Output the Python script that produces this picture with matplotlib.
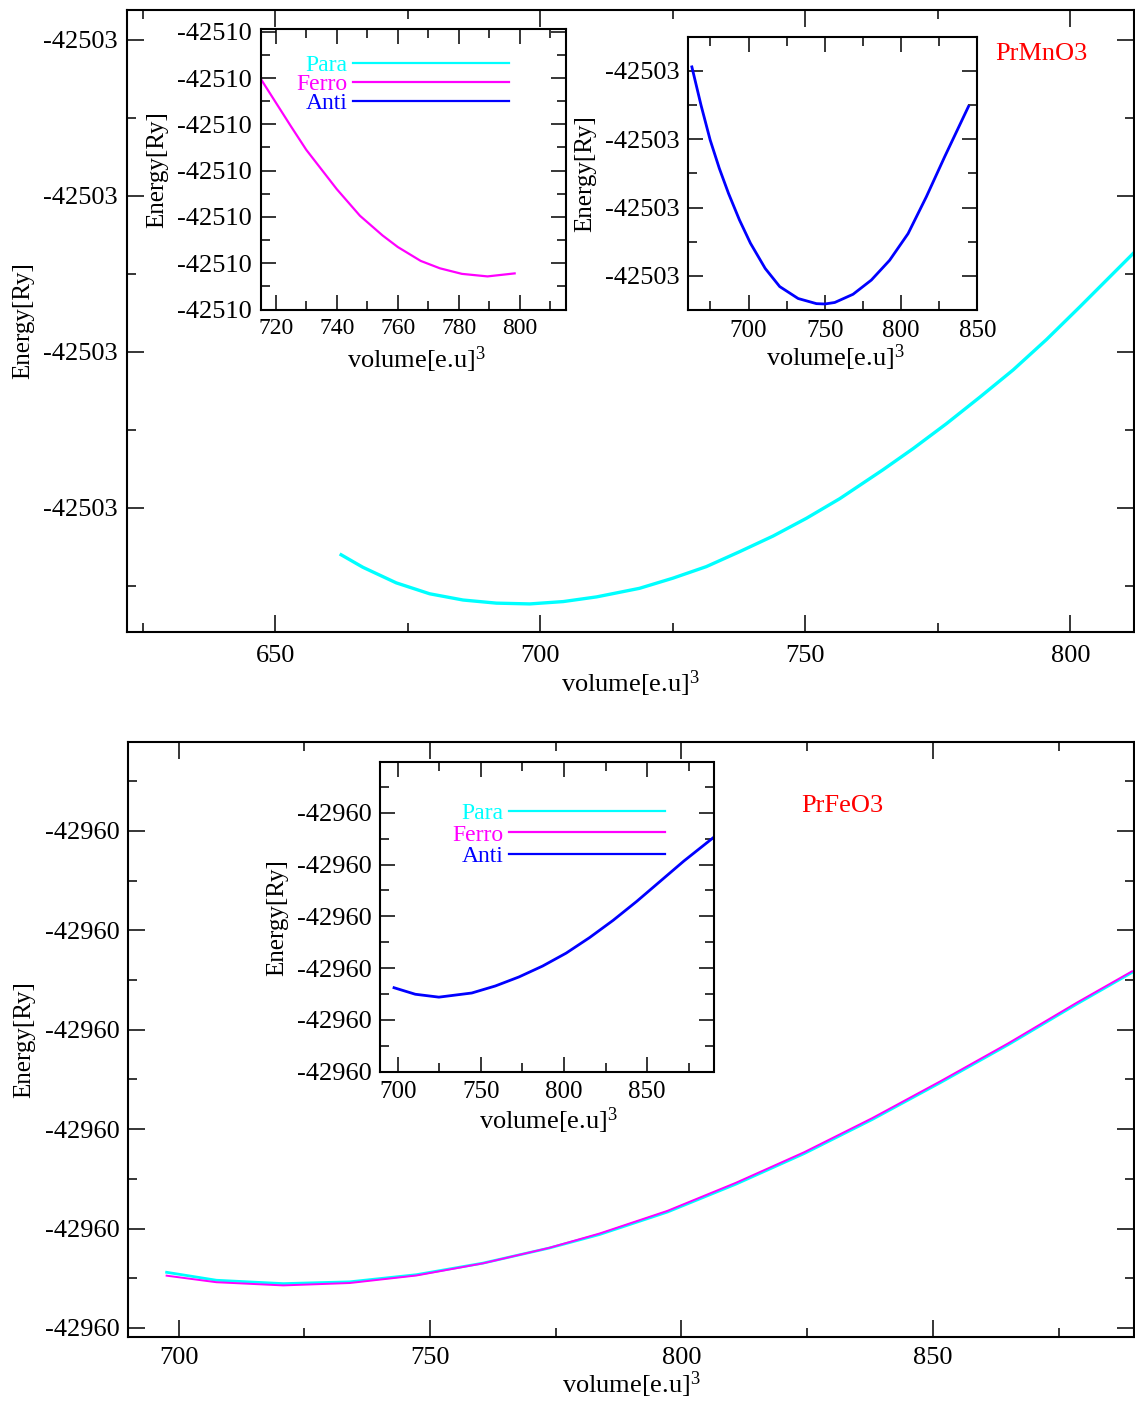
import matplotlib
matplotlib.use('Agg')
import matplotlib.pyplot as plt
from matplotlib.lines import Line2D
from matplotlib.ticker import MultipleLocator, FuncFormatter

plt.rcParams['font.family'] = ['Liberation Serif', 'DejaVu Serif']
plt.rcParams['mathtext.fontset'] = 'custom'
plt.rcParams['mathtext.rm'] = 'Liberation Serif'
plt.rcParams['mathtext.it'] = 'Liberation Serif'

# ---- PrMnO3 (top panel) ----
para_mn_vol = [662.4, 666.5, 672.8, 679.1, 685.4, 691.7, 698.0, 704.3, 710.6,
               718.7, 725.0, 731.3, 737.6, 743.9, 750.2, 756.5, 764.6, 770.3,
               776.6, 782.9, 789.2, 795.5, 801.8, 811.8]
para_mn_e = [-42503.4300, -42503.4380, -42503.4480, -42503.4550, -42503.4590,
             -42503.4610, -42503.4615, -42503.4600, -42503.4570, -42503.4515,
             -42503.4450, -42503.4376, -42503.4280, -42503.4180, -42503.4066,
             -42503.3940, -42503.3756, -42503.3620, -42503.3460, -42503.3290,
             -42503.3115, -42503.2920, -42503.2710, -42503.2370]

ferro_mn_vol = [715.3, 725.0, 730.0, 740.0, 747.6, 755.0, 760.0, 767.5, 773.8,
                781.0, 789.4, 798.3]
ferro_mn_e = [-42510.0208, -42510.0409, -42510.0510, -42510.0680, -42510.0795,
              -42510.0880, -42510.0930, -42510.0990, -42510.1022, -42510.1046,
              -42510.1057, -42510.1044]

anti_mn_vol = [662.8, 668.8, 674.8, 680.8, 686.8, 694.0, 701.2, 710.9, 720.4,
               732.5, 744.5, 750.0, 756.5, 768.5, 780.5, 792.5, 804.6, 816.6,
               828.6, 844.2]
anti_mn_e = [-42503.094, -42503.150, -42503.201, -42503.2425, -42503.279,
             -42503.318, -42503.352, -42503.389, -42503.4155, -42503.433,
             -42503.4405, -42503.441, -42503.4388, -42503.4268, -42503.406,
             -42503.377, -42503.338, -42503.284, -42503.2255, -42503.152]

# ---- PrFeO3 (bottom panel) ----
fe_vol = [697.6, 707.5, 720.8, 734.0, 747.3, 760.5, 773.7, 783.7, 797.2, 810.8,
          824.4, 837.9, 851.5, 865.0, 878.6, 889.6]
para_fe_e = [-42960.2220, -42960.2260, -42960.2277, -42960.2268, -42960.2232,
             -42960.2174, -42960.2098, -42960.2030, -42960.1917, -42960.1777,
             -42960.1623, -42960.1452, -42960.1266, -42960.1075, -42960.0871,
             -42960.0712]
ferro_fe_e = [-42960.2237, -42960.2270, -42960.2286, -42960.2274, -42960.2236,
              -42960.2175, -42960.2097, -42960.2025, -42960.1911, -42960.1770,
              -42960.1616, -42960.1445, -42960.1259, -42960.1068, -42960.0864,
              -42960.0706]

anti_fe_vol = [697.7, 710.5, 724.7, 744.5, 758.7, 772.9, 787.1, 801.3, 815.4,
               829.6, 843.8, 858.0, 872.2, 889.7]
anti_fe_e = [-42960.2189, -42960.2252, -42960.2280, -42960.2240, -42960.2172,
             -42960.2085, -42960.1980, -42960.1855, -42960.1705, -42960.1538,
             -42960.1355, -42960.1160, -42960.0965, -42960.0742]

CYAN, MAGENTA, BLUE = '#00ffff', '#ff00ff', '#0000ff'
W, H = 1135, 1405

fig = plt.figure(figsize=(W / 100, H / 100), dpi=100)


def box(left, top, right, bottom):
    return [left / W, 1 - bottom / H, (right - left) / W, (bottom - top) / H]


def style(ax, xmaj, ymaj, big, xpad, ypad, xfs=19, yfs=19):
    ax.xaxis.set_major_locator(MultipleLocator(xmaj))
    ax.xaxis.set_minor_locator(MultipleLocator(xmaj / 2))
    ax.yaxis.set_major_locator(MultipleLocator(ymaj))
    ax.yaxis.set_minor_locator(MultipleLocator(ymaj / 2))
    ax.yaxis.set_major_formatter(FuncFormatter(lambda v, p: '%.0f' % v))
    ax.tick_params(which='both', direction='in', top=True, right=True,
                   width=1.1)
    ax.tick_params(which='major', length=12 if big else 11)
    ax.tick_params(which='minor', length=6.5)
    ax.tick_params(axis='x', pad=xpad, labelsize=xfs)
    ax.tick_params(axis='y', pad=ypad, labelsize=yfs)
    for s in ax.spines.values():
        s.set_linewidth(1.5)


def label(x, y, s, rot=0, fs=19, **kw):
    if rot:
        fig.text(x / W, 1 - y / H, s, ha='center', va='center', rotation=90,
                 fontsize=fs, **kw)
    else:
        fig.text(x / W, 1 - y / H, s, ha='center', va='baseline',
                 fontsize=fs, **kw)


def add_legend(ax, anchor, spacing):
    handles = [Line2D([], [], color=CYAN, lw=1.6),
               Line2D([], [], color=MAGENTA, lw=1.6),
               Line2D([], [], color=BLUE, lw=1.6)]
    ax.legend(handles, ['Para', 'Ferro', 'Anti'], loc='upper right',
              bbox_to_anchor=anchor, frameon=False, markerfirst=False,
              labelcolor='linecolor', fontsize=17, handlelength=6.6,
              handletextpad=0.25, labelspacing=spacing, borderpad=0,
              borderaxespad=0)


XLAB = 'volume[e.u]$^{3}$'

# top main panel
ax1 = fig.add_axes(box(127, 10, 1134, 632))
ax1.plot(para_mn_vol, para_mn_e, color=CYAN, lw=2.4)
ax1.set_xlim(622, 812)
ax1.set_ylim(-42503.4795, -42503.0808)
style(ax1, 50, 0.1, True, 9, 7)
label(23, 321, 'Energy[Ry]', rot=90, fs=18)
label(630, 692, XLAB)
label(1041, 60, 'PrMnO3', color='red')

# top left inset
ax2 = fig.add_axes(box(260.5, 29, 565.6, 309.5))
ax2.plot(ferro_mn_vol, ferro_mn_e, color=MAGENTA, lw=1.6)
ax2.set_xlim(715, 815)
ax2.set_ylim(-42510.12, -42509.9988)
style(ax2, 20, 0.02, False, 6, 6, xfs=17)
add_legend(ax2, (0.815, 0.91), -0.1)
label(157, 170, 'Energy[Ry]', rot=90, fs=18)
label(416, 368, XLAB)

# top right inset
ax3 = fig.add_axes(box(687.6, 37.3, 977.3, 310))
ax3.plot(anti_mn_vol, anti_mn_e, color=BLUE, lw=2.0)
ax3.set_xlim(660, 850)
ax3.set_ylim(-42503.4498, -42503.0507)
style(ax3, 50, 0.1, False, 7.5, 6, xfs=18)
label(585, 174, 'Energy[Ry]', rot=90, fs=18)
label(835, 366, XLAB)

# bottom main panel
ax4 = fig.add_axes(box(128.4, 741.7, 1134, 1337.3))
ax4.plot(fe_vol, para_fe_e, color=CYAN, lw=2.0)
ax4.plot(fe_vol, ferro_fe_e, color=MAGENTA, lw=1.4)
ax4.set_xlim(690, 890)
ax4.set_ylim(-42960.2547, -42959.9551)
style(ax4, 50, 0.05, True, 7, 6)
label(24, 1040, 'Energy[Ry]', rot=90, fs=18)
label(631, 1393, XLAB)
label(842, 812, 'PrFeO3', color='red')

# bottom inset
ax5 = fig.add_axes(box(380.4, 762.3, 713.5, 1071.7))
ax5.plot(anti_fe_vol, anti_fe_e, color=BLUE, lw=2.0)
ax5.set_xlim(689.5, 890)
ax5.set_ylim(-42960.30, -42960.0012)
style(ax5, 50, 0.05, False, 6.5, 6, xfs=18)
add_legend(ax5, (0.855, 0.87), 0.0)
label(277, 918, 'Energy[Ry]', rot=90, fs=18)
label(548, 1129, XLAB)

fig.savefig('out.png', dpi=100, facecolor='white')
